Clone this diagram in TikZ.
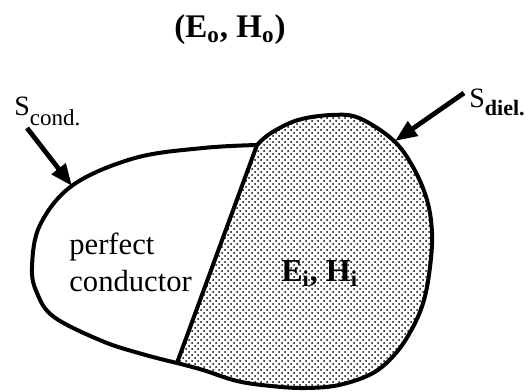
\documentclass[tikz,border=0pt]{standalone}
\usepackage{fontspec}
\setmainfont{Liberation Serif}
\usetikzlibrary{arrows.meta,patterns}
\definecolor{ink}{HTML}{000000}

\begin{document}
\begin{tikzpicture}[x=0.5pt,y=-0.5pt,
    rim/.style={draw=ink,line width=2pt,line join=round},
    pointer/.style={draw=ink,line width=2.4pt,-{Triangle[length=11pt,width=8.5pt]}},
    label/.style={inner sep=0pt,anchor=base west}]
  \useasboundingbox (0,0) rectangle (530,391);
  % corners where the dividing line meets the rim
  \coordinate (jtop) at (257,145);
  \coordinate (jbot) at (177,363);
  % dielectric part, dotted
  \fill[pattern=crosshatch dots,pattern color=ink]
    plot[smooth,tension=0.6] coordinates {(257,145) (271,133) (298,120) (332,115) (359,118) (393,140) (413,167) (427,200) (432,233) (430,267) (424,300) (413,327) (396,353) (373,373) (339,385) (305,388) (271,386) (237,381) (203,370) (177,363)} -- cycle;
  \draw[rim]
    plot[smooth,tension=0.6] coordinates {(257,145) (271,133) (298,120) (332,115) (359,118) (393,140) (413,167) (427,200) (432,233) (430,267) (424,300) (413,327) (396,353) (373,373) (339,385) (305,388) (271,386) (237,381) (203,370) (177,363)};
  % conductor part
  \draw[rim]
    plot[smooth,tension=0.6] coordinates {(177,363) (142,354) (102,341) (54,317) (37,293) (32,267) (40,225) (73,185) (135,158) (203,148) (257,145)};
  \draw[rim] (jtop) -- (jbot);
  % texts
  \node[label,font=\fontsize{16.5}{16.5}\selectfont\bfseries] (field0) at (174,37)
    {(E\textsubscript{o}, H\textsubscript{o})};
  \node[label,font=\fontsize{16}{16}\selectfont\bfseries] (fieldi) at (281,281)
    {E\textsubscript{i}, H\textsubscript{i}};
  \node[inner sep=0pt,anchor=west,align=left,font=\fontsize{15.3}{18.5}\selectfont] (pc) at (69,262)
    {perfect\\conductor};
  \node[label,font=\fontsize{14}{14}\selectfont] (scond) at (14,115)
    {S\raisebox{-5pt}{\fontsize{11.5}{12}\selectfont cond.}};
  \node[label,font=\fontsize{14}{14}\selectfont] (sdiel) at (469,107)
    {S\raisebox{-4pt}{\fontsize{11}{12}\selectfont\bfseries diel.}};
  % pointers
  \coordinate (ctail) at (27,128);
  \coordinate (chead) at (72,186);
  \coordinate (dtail) at (464,93);
  \coordinate (dhead) at (395,141);
  \draw[pointer] (ctail) -- (chead);
  \draw[pointer] (dtail) -- (dhead);
\end{tikzpicture}
\end{document}
